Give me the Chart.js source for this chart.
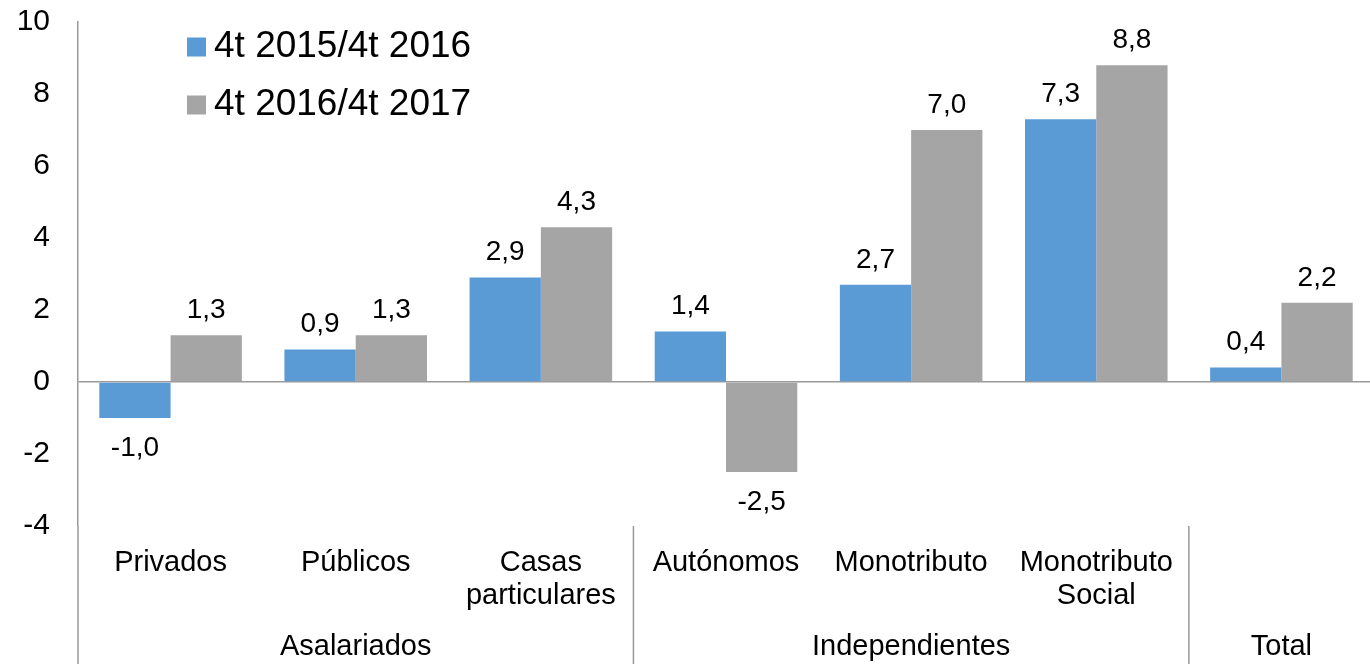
<!DOCTYPE html>
<html>
<head>
<meta charset="utf-8">
<script src="https://cdn.jsdelivr.net/npm/chart.js@4/dist/chart.umd.min.js"></script>
<style>
  html, body { margin: 0; padding: 0; background: #fff; overflow: hidden; }
  #wrap { position: relative; width: 1376px; height: 664px; }
</style>
</head>
<body>
<div id="wrap"><canvas id="chart"></canvas></div>
<script>
// data
const categories = [
  ["Privados"], ["Públicos"], ["Casas", "particulares"],
  ["Autónomos"], ["Monotributo"], ["Monotributo", "Social"], [""]
];
const groupLabels = ["Asalariados", "Independientes", "Total"];
const groupSpans = [3, 3, 1];
const seriesNames = ["4t 2015/4t 2016", "4t 2016/4t 2017"];
const values2016 = [-1.0, 0.9, 2.9, 1.4, 2.7, 7.3, 0.4];
const values2017 = [1.3, 1.3, 4.3, -2.5, 7.0, 8.8, 2.2];
const yTicks = [-4, -2, 0, 2, 4, 6, 8, 10];

const FONT = '"Liberation Sans", Arial, sans-serif';
const AXIS_COLOR = "#9a9a9a";

const fmt = v => v.toFixed(1).replace(".", ",");

// draws value labels, the multi-level x axis and the legend
const extras = {
  id: "extras",
  afterDraw(chart) {
    const ctx = chart.ctx;
    const area = chart.chartArea;
    const x = chart.scales.x;
    const H = chart.height;
    const catW = (area.right - area.left) / categories.length;
    ctx.save();

    // value labels
    ctx.fillStyle = "#000";
    ctx.font = "28px " + FONT;
    ctx.textAlign = "center";
    ctx.textBaseline = "middle";
    chart.data.datasets.forEach((ds, di) => {
      chart.getDatasetMeta(di).data.forEach((bar, i) => {
        const v = ds.data[i];
        const y = v >= 0 ? bar.y - 25 : bar.y + 30;
        ctx.fillText(fmt(v), bar.x, y);
      });
    });

    // axis line continues down through the labels
    ctx.strokeStyle = AXIS_COLOR;
    ctx.lineWidth = 1.5;
    ctx.beginPath();
    ctx.moveTo(area.left, area.bottom);
    ctx.lineTo(area.left, H);
    // group dividers
    let acc = 0;
    groupSpans.forEach(s => {
      acc += s;
      const gx = area.left + acc * catW;
      ctx.moveTo(gx, area.bottom);
      ctx.lineTo(gx, H);
    });
    ctx.stroke();

    // category labels
    ctx.font = "29px " + FONT;
    categories.forEach((lines, i) => {
      const cx = x.getPixelForValue(i);
      lines.forEach((t, li) => ctx.fillText(t, cx, 563 + li * 33));
    });

    // group labels
    acc = 0;
    groupLabels.forEach((g, gi) => {
      const cx = area.left + (acc + groupSpans[gi] / 2) * catW;
      acc += groupSpans[gi];
      ctx.fillText(g, cx, 647);
    });

    // legend
    ctx.font = "37px " + FONT;
    ctx.textAlign = "left";
    chart.data.datasets.forEach((ds, di) => {
      const ly = 47 + di * 58;
      ctx.fillStyle = ds.backgroundColor;
      ctx.fillRect(187, ly - 9.5, 19, 19);
      ctx.fillStyle = "#000";
      ctx.fillText(ds.label, 214, ly);
    });
    ctx.restore();
  }
};

new Chart(document.getElementById("chart"), {
  type: "bar",
  data: {
    labels: categories.map(c => c.join(" ")),
    datasets: [
      { label: seriesNames[0], data: values2016, backgroundColor: "#5b9bd5" },
      { label: seriesNames[1], data: values2017, backgroundColor: "#a5a5a5" }
    ]
  },
  options: {
    responsive: true,
    maintainAspectRatio: false,
    animation: false,
    layout: { padding: { top: 22, right: 2, bottom: 138, left: 0 } },
    plugins: { legend: { display: false }, tooltip: { enabled: false } },
    datasets: { bar: { categoryPercentage: 0.77, barPercentage: 1.0 } },
    scales: {
      x: { display: false },
      y: {
        min: -4,
        max: 10,
        afterBuildTicks: s => { s.ticks = yTicks.map(v => ({ value: v })); },
        afterFit: s => {
          s.width = 78;
          s.paddingTop = 0;
          s.paddingBottom = 0;
        },
        ticks: {
          padding: 28,
          color: "#000",
          font: { family: FONT, size: 30 }
        },
        grid: {
          drawTicks: false,
          color: c => (c.tick && c.tick.value === 0 ? AXIS_COLOR : "transparent"),
          lineWidth: 1.5
        },
        border: { display: true, color: AXIS_COLOR, width: 1.5 }
      }
    }
  },
  plugins: [extras]
});
</script>
</body>
</html>
